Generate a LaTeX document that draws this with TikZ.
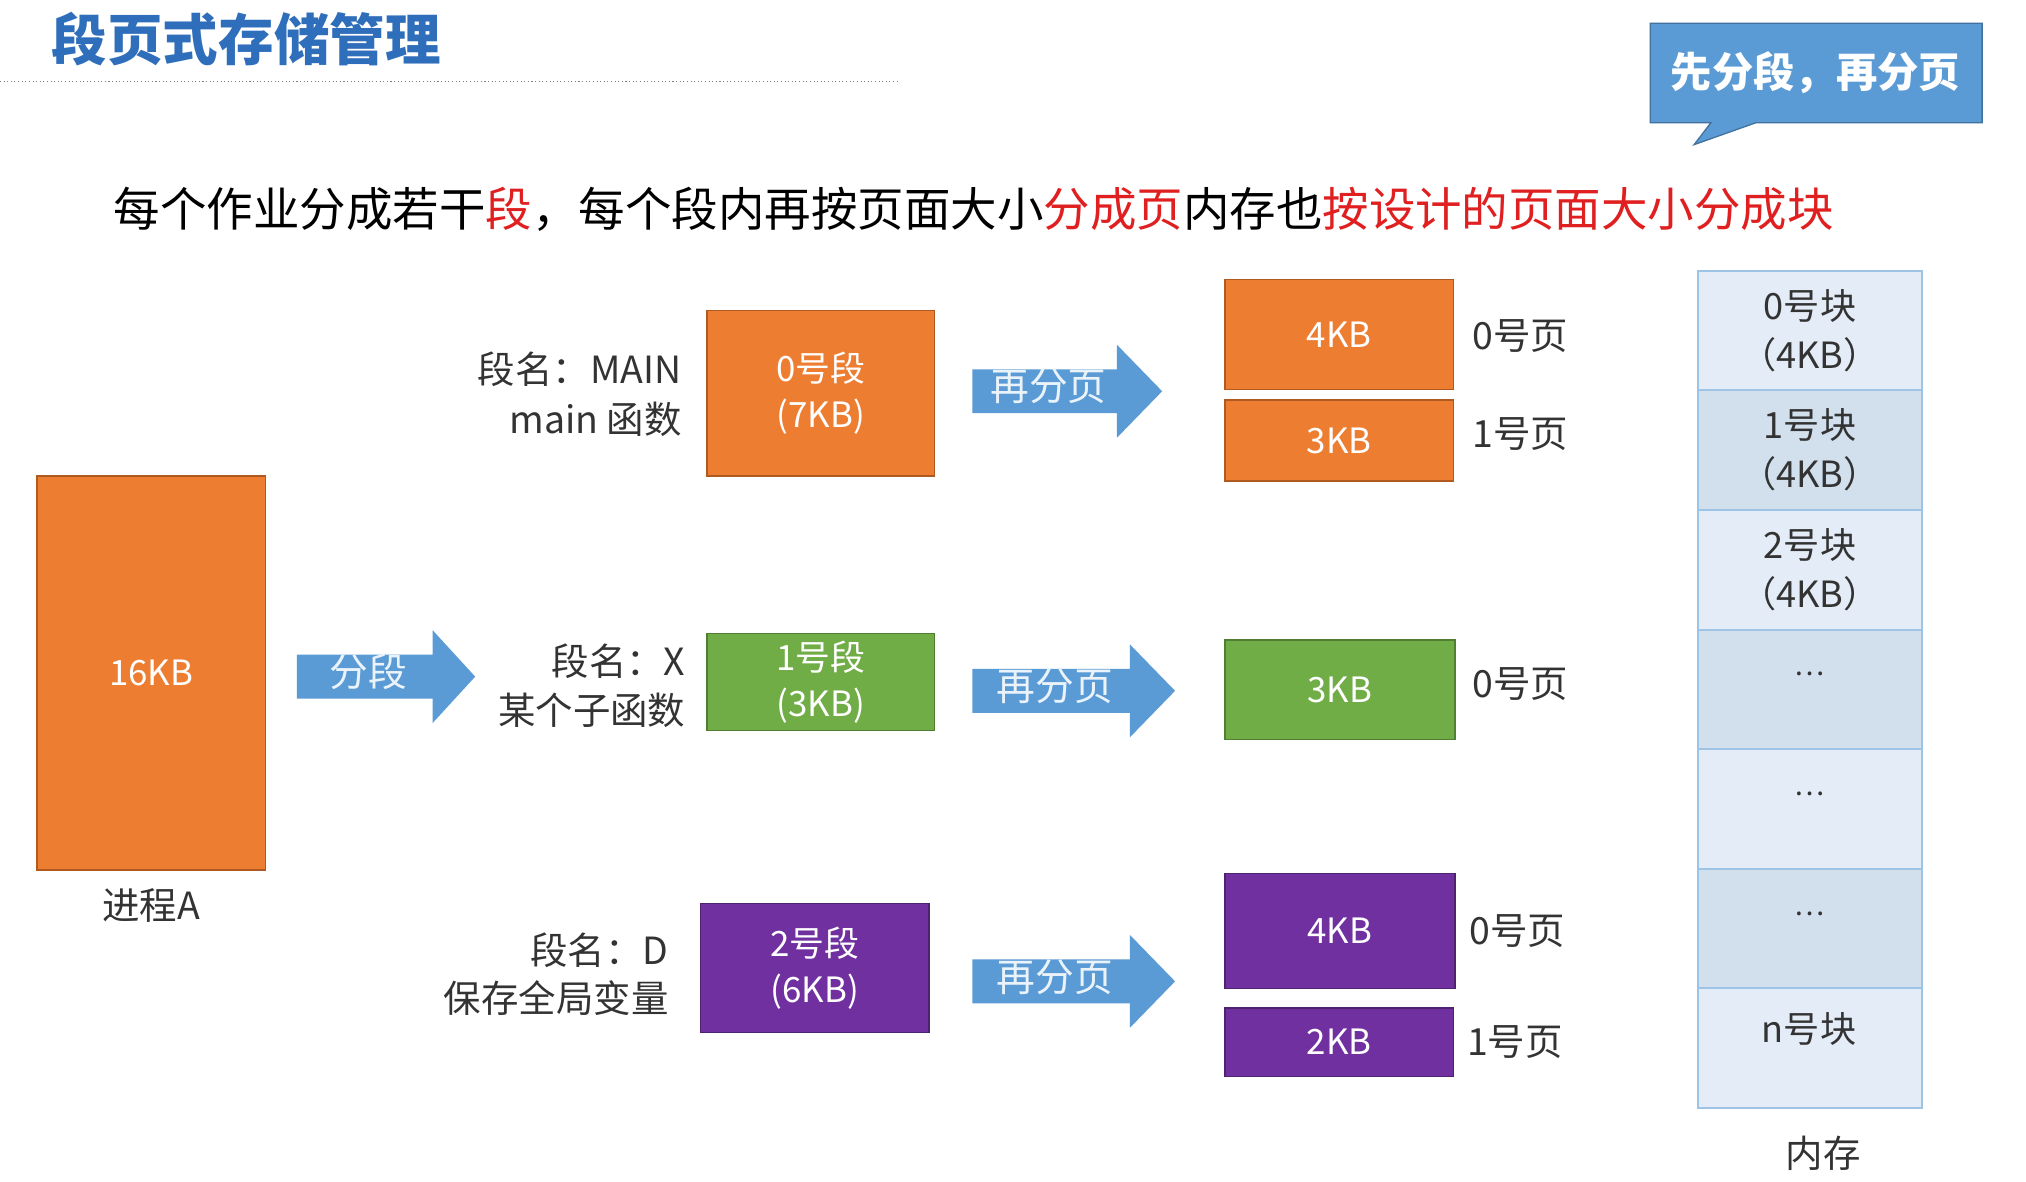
\documentclass[tikz,border=0pt]{standalone}
\usepackage{fontspec}
\setmainfont{Noto Sans CJK SC}
\newfontfamily\cjk{Noto Sans CJK SC}
\usetikzlibrary{positioning}
\definecolor{tblue}{HTML}{2F6EBA}
\definecolor{abl}{HTML}{5B9BD5}
\definecolor{abd}{HTML}{41719C}
\definecolor{oran}{HTML}{ED7D31}
\definecolor{orand}{HTML}{AE5A21}
\definecolor{gre}{HTML}{70AD47}
\definecolor{gred}{HTML}{507E32}
\definecolor{pur}{HTML}{7030A0}
\definecolor{purd}{HTML}{4F2270}
\definecolor{memf}{HTML}{E4EDF7}
\definecolor{memf2}{HTML}{D2E0EE}
\definecolor{memb}{HTML}{9DC3E6}
\definecolor{rd}{HTML}{E02020}
\definecolor{txt}{HTML}{333333}
\tikzset{x=1pt,y=-1pt,
 blk/.style={draw=#1,line width=1.2pt,anchor=north west,inner sep=0pt,text=white,font=\fontsize{27}{36}\selectfont,align=center},
 lab/.style={font=\fontsize{29}{36}\selectfont,text=txt,inner sep=0pt,align=right},
 mem/.style={draw=memb,line width=1.5pt,fill=memf,anchor=north west,minimum width=174pt,minimum height=92.6pt,inner sep=0pt,font=\fontsize{28}{38}\selectfont,text=txt,align=center},
 arr/.style={fill=abl,draw=abd,line width=0.8pt}}
\newcommand\fatarrow[5]{% x0,xh,x1,yc,name/label
 \fill[abl] (#1,#4-17)--(#2,#4-17)--(#2,#4-36)--(#3,#4)--(#2,#4+36)--(#2,#4+17)--(#1,#4+17)--cycle;
 \node[font=\fontsize{30}{32}\selectfont,text=white!88!abl,inner sep=0pt] (#5) at ({(#1+#2)/2+3},#4) {\strut#5};}
\begin{document}
\begin{tikzpicture}
\useasboundingbox[fill=white] (0,0) rectangle (1569,915);
% title
\node[anchor=west,font=\fontsize{43}{46}\selectfont\bfseries,text=tblue,inner sep=0pt] (title) at (40,30) {段页式存储管理};
\draw[dotted,gray,line width=0.8pt] (0,63) -- (695,63);
% callout
\draw[fill=abl,draw=abd,line width=1pt] (1278,18)--(1535,18)--(1535,95)--(1360,95)--(1312,112)--(1325,95)--(1278,95)--cycle;
\node[font=\fontsize{32}{34}\selectfont\bfseries,text=white,inner sep=0pt] (call) at (1406,56) {先分段，再分页};
% sentence
\node[anchor=west,font=\fontsize{36}{40}\selectfont,inner sep=0pt] (sent) at (88,162) {每个作业分成若干\textcolor{rd}{段}，每个段内再按页面大小\textcolor{rd}{分成页}内存也\textcolor{rd}{按设计的页面大小分成块}};
% process
\node[blk=orand,fill=oran,minimum width=177pt,minimum height=305pt] (proc) at (28,368) {16KB};
\node[lab,below=14pt of proc] (procl) {进程A};
\fatarrow{230}{335}{368}{524}{分段}
% segments
\node[blk=orand,fill=oran,minimum width=176pt,minimum height=128pt] (s0) at (547,240) {0号段\\(7KB)};
\node[blk=gred,fill=gre,minimum width=176pt,minimum height=75pt] (s1) at (547,490) {1号段\\(3KB)};
\node[blk=purd,fill=pur,minimum width=177pt,minimum height=100pt] (s2) at (542,699) {2号段\\(6KB)};
\node[lab,anchor=east] (l0a) at (528,286) {段名：MAIN};
\node[lab,anchor=east] (l0b) at (528,325) {main 函数};
\node[lab,anchor=east] (l1a) at (531,512) {段名：X};
\node[lab,anchor=east] (l1b) at (531,550) {某个子函数};
\node[lab,anchor=east] (l2a) at (518,736) {段名：D};
\node[lab,anchor=east] (l2b) at (518,773) {保存全局变量};
% arrows
\fatarrow{753}{865}{900}{303}{再分页}
\fatarrow{753}{875}{910}{535}{再分页}
\fatarrow{753}{875}{910}{760}{再分页}
% pages
\node[blk=orand,fill=oran,minimum width=177pt,minimum height=85pt] (p00) at (948,216) {4KB};
\node[blk=orand,fill=oran,minimum width=177pt,minimum height=63pt] (p01) at (948,309) {3KB};
\node[blk=gred,fill=gre,minimum width=178pt,minimum height=77pt] (p10) at (948,495) {3KB};
\node[blk=purd,fill=pur,minimum width=178pt,minimum height=89pt] (p20) at (948,676) {4KB};
\node[blk=purd,fill=pur,minimum width=177pt,minimum height=53pt] (p21) at (948,780) {2KB};
\node[lab,anchor=west] (q00) at (1140,260) {0号页};
\node[lab,anchor=west] (q01) at (1140,336) {1号页};
\node[lab,anchor=west] (q10) at (1140,530) {0号页};
\node[lab,anchor=west] (q20) at (1138,721) {0号页};
\node[lab,anchor=west] (q21) at (1136,807) {1号页};
% memory
\node[mem] (m0) at (1314,209.0) {0号块\\（4KB）};
\node[mem,fill=memf2] (m1) at (1314,301.6) {1号块\\（4KB）};
\node[mem] (m2) at (1314,394.2) {2号块\\（4KB）};
\node[mem,fill=memf2] (m3) at (1314,486.8) {};
\node[mem] (m4) at (1314,579.4) {};
\node[mem,fill=memf2] (m5) at (1314,672.0) {};
\node[mem] (m6) at (1314,764.6) {};
\node[font=\fontsize{22}{24}\selectfont,text=txt] (d3) at (1401,522) {…};
\node[font=\fontsize{22}{24}\selectfont,text=txt] (d4) at (1401,615) {…};
\node[font=\fontsize{22}{24}\selectfont,text=txt] (d5) at (1401,708) {…};
\node[font=\fontsize{28}{30}\selectfont,text=txt] (d6) at (1401,797) {n号块};
\node[lab] (meml) at (1412,893) {内存};
\end{tikzpicture}
\end{document}
